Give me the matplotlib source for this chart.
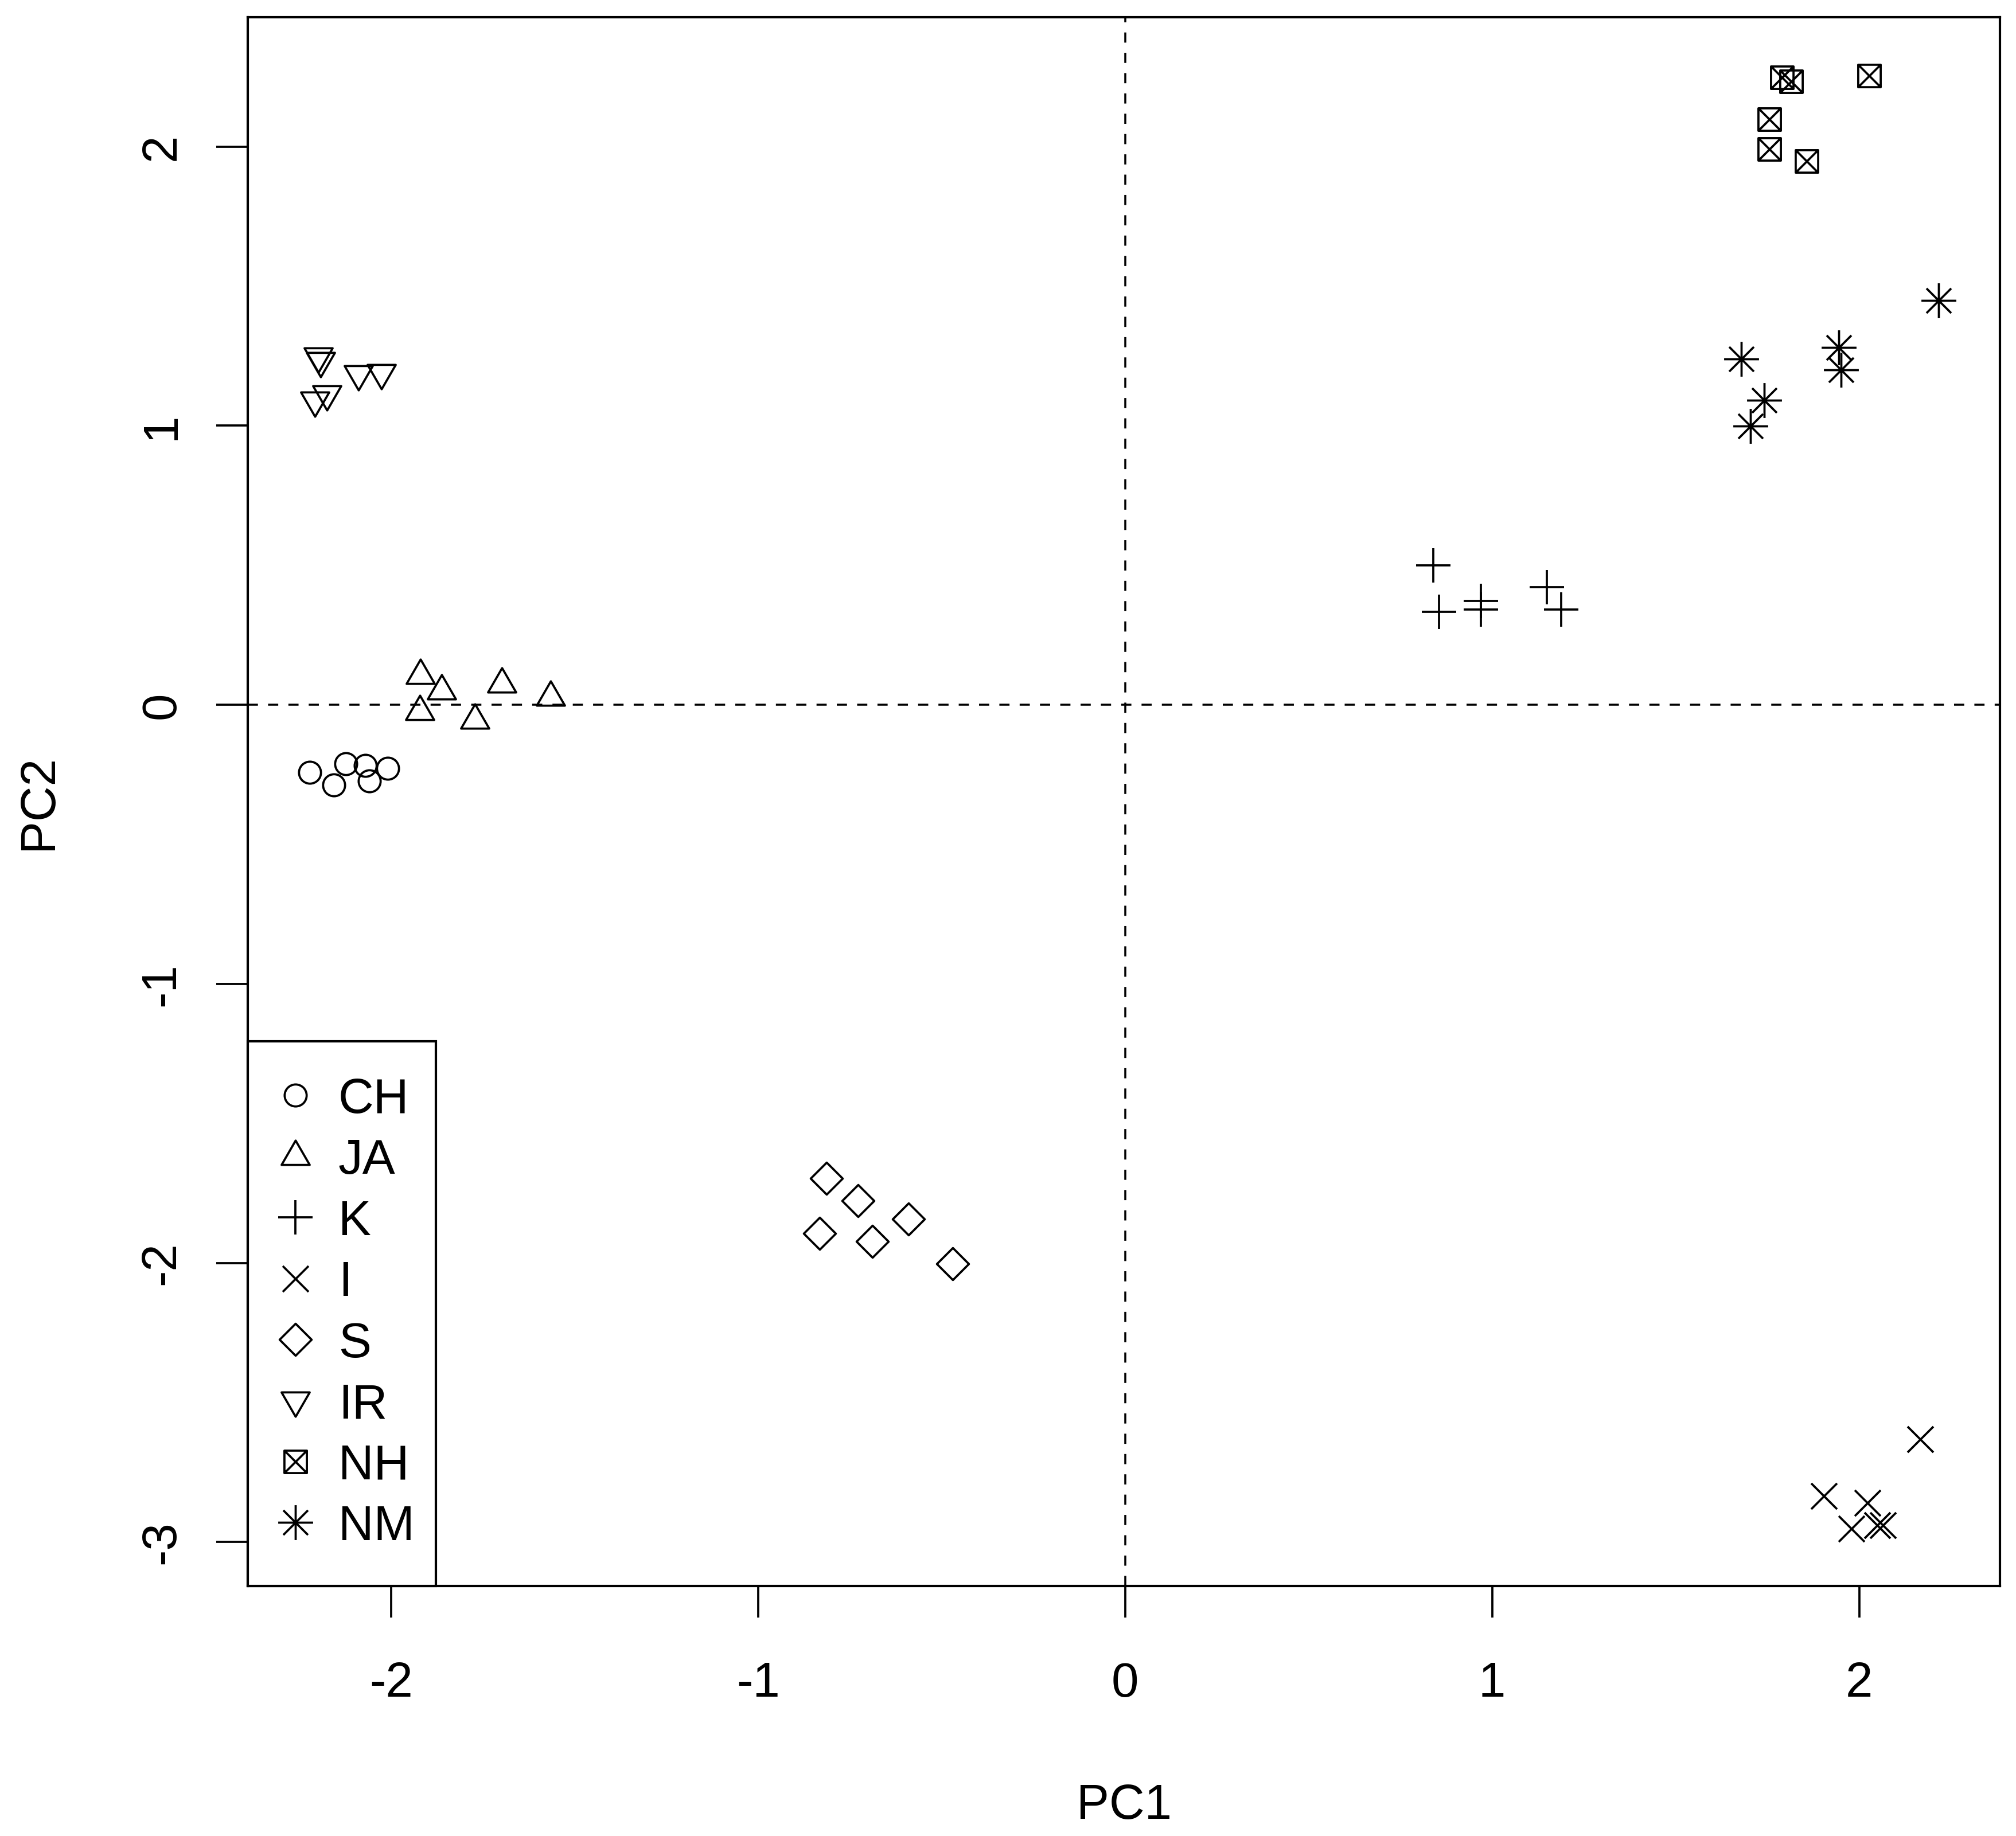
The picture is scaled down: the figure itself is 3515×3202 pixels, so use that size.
import matplotlib
matplotlib.use("Agg")
import matplotlib.pyplot as plt
from matplotlib.path import Path

# PCA scores, one group per population
groups = ["CH", "JA", "K", "I", "S", "IR", "NH", "NM"]

ch_x = [-2.222, -2.156, -2.123, -2.070, -2.060, -2.010]
ch_y = [-0.242, -0.288, -0.211, -0.217, -0.274, -0.228]
ja_x = [-1.920, -1.862, -1.921, -1.699, -1.772, -1.566]
ja_y = [0.104, 0.049, -0.025, 0.075, -0.055, 0.026]
k_x = [0.839, 0.855, 0.969, 0.969, 1.149, 1.188]
k_y = [0.500, 0.333, 0.372, 0.342, 0.422, 0.341]
i_x = [2.167, 1.903, 2.023, 1.979, 2.049, 2.065]
i_y = [-2.631, -2.836, -2.860, -2.953, -2.939, -2.939]
s_x = [-0.814, -0.728, -0.833, -0.689, -0.590, -0.470]
s_y = [-1.696, -1.778, -1.894, -1.922, -1.843, -2.003]
ir_x = [-2.198, -2.192, -2.089, -2.026, -2.208, -2.175]
ir_y = [1.249, 1.232, 1.185, 1.190, 1.090, 1.113]
nh_x = [1.789, 1.815, 2.028, 1.755, 1.755, 1.857]
nh_y = [2.248, 2.234, 2.253, 2.097, 1.990, 1.948]
nm_x = [2.216, 1.679, 1.944, 1.951, 1.741, 1.703]
nm_y = [1.448, 1.239, 1.280, 1.199, 1.091, 0.999]

xs = [ch_x, ja_x, k_x, i_x, s_x, ir_x, nh_x, nm_x]
ys = [ch_y, ja_y, k_y, i_y, s_y, ir_y, nh_y, nm_y]

xticks = [-2, -1, 0, 1, 2]
yticks = [-3, -2, -1, 0, 1, 2]

M, L, C = Path.MOVETO, Path.LINETO, Path.CLOSEPOLY

# R-style open symbols (pch 1..8)
def triangle(up=True):
    s = 1 if up else -1
    v = [(0, s * 1.5551), (1.3468, -s * 0.7776), (-1.3468, -s * 0.7776), (0, 0)]
    return Path(v, [M, L, L, C])

diamond = Path([(0, 1), (1, 0), (0, -1), (-1, 0), (0, 0)], [M, L, L, L, C])
box_x = Path([(-1, -1), (1, -1), (1, 1), (-1, 1), (0, 0),
              (-1, -1), (1, 1), (-1, 1), (1, -1)],
             [M, L, L, L, C, M, L, M, L])
r2 = 1.4142
asterisk = Path([(-r2, 0), (r2, 0), (0, -r2), (0, r2),
                 (-1, -1), (1, 1), (-1, 1), (1, -1)],
                [M, L, M, L, M, L, M, L])

markers = ["o", triangle(True), "+", "x", diamond, triangle(False), box_x, asterisk]
sizes = [9.2, 13.6, 14.6, 10.8, 13.4, 13.6, 9.4, 14.6]

plt.rcParams["font.family"] = ["Liberation Sans", "DejaVu Sans"]
plt.rcParams["axes.unicode_minus"] = False

fig = plt.figure(figsize=(3515 / 300, 3203 / 300), dpi=300)
ax = fig.add_axes([431.7 / 3515, 1 - 2766.7 / 3203,
                   (3487.3 - 431.7) / 3515, (2766.7 - 30.7) / 3203])

for g, x, y, m, ms in zip(groups, xs, ys, markers, sizes):
    ax.plot(x, y, linestyle="none", marker=m, markersize=ms,
            markerfacecolor="none", markeredgecolor="black",
            markeredgewidth=0.9, color="black", label=g)

ax.axhline(0, color="black", lw=0.85, ls=(0, (5, 5)), zorder=0)
ax.axvline(0, color="black", lw=0.85, ls=(0, (5, 5)), zorder=0)

ax.set_xlim(-2.391, 2.384)
ax.set_ylim(-3.157, 2.464)
ax.set_xticks(xticks)
ax.set_yticks(yticks)
ax.set_xticklabels([str(t) for t in xticks])
ax.set_yticklabels([str(t) for t in yticks], rotation=90, va="center")

ax.tick_params(axis="both", direction="out", length=13.2, width=0.9,
               labelsize=20.5, color="black")
ax.tick_params(axis="x", pad=18)
ax.tick_params(axis="y", pad=13)
for sp in ax.spines.values():
    sp.set_linewidth(1.0)

ax.set_xlabel("PC1", fontsize=20.5, va="baseline")
ax.xaxis.set_label_coords(0.5, -0.148)
ax.set_ylabel("PC2", fontsize=20.5, va="center", ha="center")
ax.yaxis.set_label_coords(-0.119, 0.5)

leg = ax.legend(loc="lower left", bbox_to_anchor=(0, 0, 0.1074, 0.3),
                mode="expand", borderaxespad=0, fontsize=20.5,
                frameon=True, fancybox=False, framealpha=1,
                edgecolor="black", borderpad=0.73, labelspacing=0.31,
                handlelength=0.49, handletextpad=0.63)
leg.get_frame().set_linewidth(1.0)

fig.savefig("out.png", dpi=300, facecolor="white")
